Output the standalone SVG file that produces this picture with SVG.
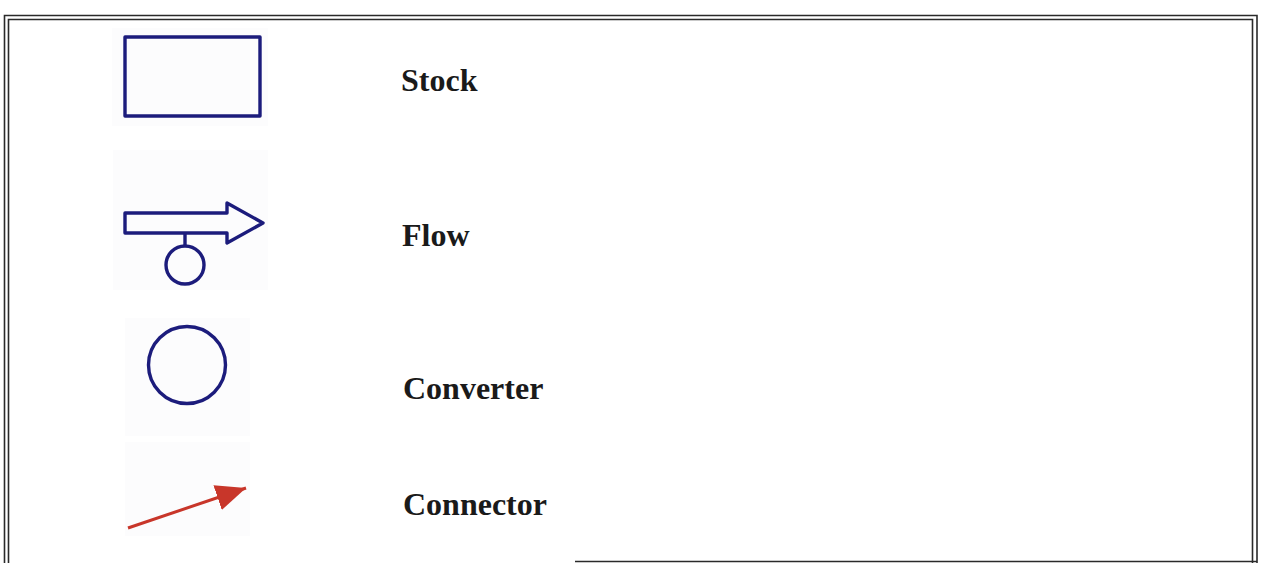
<svg xmlns="http://www.w3.org/2000/svg" width="1262" height="563" viewBox="0 0 1262 563">
<style>
.frame{fill:none;stroke:#2a2a2a;stroke-width:1.6}
.sym{fill:none;stroke:#1c1c7c;stroke-width:3.4;stroke-linejoin:round}
.lbl{font-family:"Liberation Serif","Times New Roman",serif;font-weight:bold;font-size:32px;fill:#1a1a1a}
.bg{fill:#fcfcfd}
</style>
<defs>
<marker id="ah" markerUnits="userSpaceOnUse" markerWidth="34" markerHeight="34" refX="30" refY="13" orient="auto">
<path d="M0,0 L30,13 L0,26 Z" fill="#c8362a"/>
</marker>
</defs>
<rect width="1262" height="563" fill="#ffffff"/>
<g id="frame">
<path class="frame" d="M4.5,566 V15.5 H1257 V566"/>
<path class="frame" d="M8.5,566 V19.5 H1252.5 V566"/>
<path class="frame" d="M575,561.5 H1257"/>
</g>
<g id="stock">
<rect class="bg" x="112" y="28" width="156" height="98"/>
<rect class="sym" x="125" y="37" width="135" height="79"/>
<text class="lbl" x="401" y="91">Stock</text>
</g>
<g id="flow">
<rect class="bg" x="113" y="150" width="155" height="140"/>
<path class="sym" d="M125,213 H227 V203 L263,223 L227,243 V233 H125 Z"/>
<line class="sym" x1="185" y1="233" x2="185" y2="246"/>
<circle class="sym" cx="185" cy="265" r="19"/>
<text class="lbl" x="402" y="246">Flow</text>
</g>
<g id="converter">
<rect class="bg" x="125" y="318" width="125" height="118"/>
<circle class="sym" cx="187" cy="365" r="38.5"/>
<text class="lbl" x="403" y="399">Converter</text>
</g>
<g id="connectors">
<rect class="bg" x="125" y="442" width="125" height="94"/>
<line x1="128" y1="528" x2="246" y2="488" stroke="#c8362a" stroke-width="3" marker-end="url(#ah)"/>
</g>
<g id="connector-label">
<text class="lbl" x="403" y="515">Connector</text>
</g>
</svg>
